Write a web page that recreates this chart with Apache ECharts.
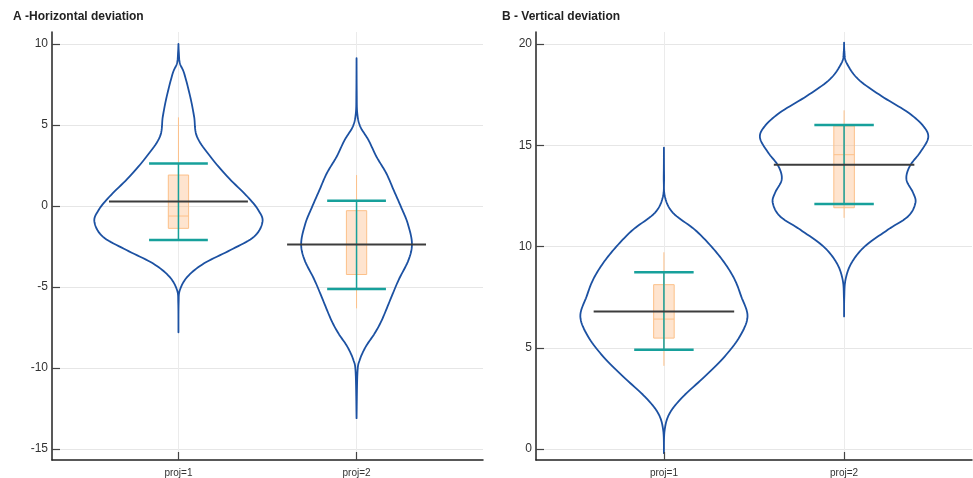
<!DOCTYPE html>
<html>
<head>
<meta charset="utf-8">
<script src="https://cdn.jsdelivr.net/npm/echarts@6/dist/echarts.min.js"></script>
<style>html,body{margin:0;padding:0;background:#fff}#c{width:973px;height:478px}</style>
</head>
<body>
<div id="c"></div>
<script>
const categories = ['proj=1', 'proj=2'];
const catPos = [1, 2];
const titleA = 'A -Horizontal deviation';
const titleB = 'B - Vertical deviation';
const ticksA = [-15, -10, -5, 0, 5, 10];
const ticksB = [0, 5, 10, 15, 20];

// Panel A violin profiles (value, half width in x units)
const aV1Y = [10.0, 9.5, 8.81, 8.19, 6.75, 5.51, 4.28, 3.04, 1.81, 0.57, -0.25, -0.97, -1.89, -2.72, -3.54, -4.36, -5.19, -6.0, -7.8];
const aV1W = [0.0, 0.002, 0.008, 0.032, 0.066, 0.088, 0.104, 0.180, 0.275, 0.388, 0.448, 0.472, 0.425, 0.292, 0.144, 0.051, 0.008, 0.001, 0.0];
const aV2Y = [9.12, 7.0, 5.72, 4.9, 4.07, 3.04, 2.02, 0.99, -0.04, -1.07, -2.3, -3.33, -4.57, -5.8, -7.04, -7.86, -8.68, -9.5, -10.3, -13.1];
const aV2W = [0.0, 0.001, 0.004, 0.021, 0.067, 0.112, 0.167, 0.208, 0.249, 0.287, 0.311, 0.292, 0.236, 0.189, 0.142, 0.102, 0.052, 0.018, 0.005, 0.0];
// Panel B violin profiles
const bV1Y = [14.89, 13.5, 12.49, 11.67, 10.84, 10.01, 9.19, 8.37, 7.54, 6.55, 5.56, 4.57, 3.58, 2.59, 1.77, 0.94, -0.2];
const bV1W = [0.0, 0.001, 0.005, 0.050, 0.171, 0.263, 0.337, 0.393, 0.429, 0.464, 0.421, 0.337, 0.226, 0.106, 0.032, 0.004, 0.0];
const bV2Y = [20.08, 19.6, 19.09, 18.27, 17.44, 16.62, 15.96, 15.38, 14.64, 13.98, 13.32, 12.66, 12.16, 11.5, 10.84, 10.01, 9.19, 8.37, 7.5, 6.55];
const bV2W = [0.0, 0.002, 0.013, 0.078, 0.207, 0.356, 0.439, 0.467, 0.421, 0.365, 0.346, 0.383, 0.396, 0.356, 0.244, 0.115, 0.041, 0.008, 0.001, 0.0];

// Panel A statistics per category
const aWhiskerLow = [-2.1, -6.32];
const aWhiskerHigh = [5.47, 1.91];
const aQ1 = [-1.38, -4.23];
const aMedian = [-0.62, -2.37];
const aQ3 = [1.91, -0.29];
const aCiLow = [-2.1, -5.12];
const aCiHigh = [2.63, 0.33];
const aMean = [0.27, -2.37];
// Panel B statistics per category
const bWhiskerLow = [4.11, 11.42];
const bWhiskerHigh = [9.72, 16.73];
const bQ1 = [5.48, 11.92];
const bMedian = [6.42, 14.54];
const bQ3 = [8.12, 15.96];
const bCiLow = [4.9, 12.1];
const bCiHigh = [8.73, 16.01];
const bMean = [6.8, 14.04];

const C_VIOLIN = '#1c51a2';
const C_TEAL = '#17a09b';
const C_MEAN = '#3c3c3c';
const C_BOX_FILL = 'rgba(253,190,140,0.42)';
const C_BOX_LINE = '#fcc089';
const FONT = 'Liberation Sans, Arial, sans-serif';

// Catmull-Rom smoothing of the (value, halfwidth) outline for drawing
function smoothProfile(ys, ws, steps) {
  const outY = [], outW = [];
  const n = ys.length;
  for (let k = 0; k < n - 1; k++) {
    const i0 = Math.max(0, k - 1), i1 = k, i2 = k + 1, i3 = Math.min(n - 1, k + 2);
    for (let s = 0; s < steps; s++) {
      const t = s / steps, t2 = t * t, t3 = t2 * t;
      const cr = (p0, p1, p2, p3) => 0.5 * ((2 * p1) + (-p0 + p2) * t + (2 * p0 - 5 * p1 + 4 * p2 - p3) * t2 + (-p0 + 3 * p1 - 3 * p2 + p3) * t3);
      outY.push(cr(ys[i0], ys[i1], ys[i2], ys[i3]));
      outW.push(Math.max(0, cr(ws[i0], ws[i1], ws[i2], ws[i3])));
    }
  }
  outY.push(ys[n - 1]); outW.push(ws[n - 1]);
  return [outY, outW];
}

function makeRender(profiles, st) {
  return function (params, api) {
    const i = params.dataIndex;
    const xc = api.value(0);
    const sp = smoothProfile(profiles[i][0], profiles[i][1], 10);
    const ys = sp[0], ws = sp[1];
    const right = [], left = [];
    for (let k = 0; k < ys.length; k++) {
      right.push(api.coord([xc + ws[k], ys[k]]));
      left.push(api.coord([xc - ws[k], ys[k]]));
    }
    const pts = right.concat(left.reverse());
    const boxW = 0.057, capW = 0.165, meanW = 0.39;
    const p = (x, y) => api.coord([x, y]);
    const children = [];
    children.push({ type: 'polygon', shape: { points: pts }, style: { fill: 'none', stroke: C_VIOLIN, lineWidth: 1.8, lineJoin: 'round' } });
    const wl = p(xc, st.wl[i]), wh = p(xc, st.wh[i]);
    children.push({ type: 'line', shape: { x1: wl[0], y1: wl[1], x2: wh[0], y2: wh[1] }, style: { stroke: C_BOX_LINE, lineWidth: 1 } });
    const q1 = p(xc - boxW, st.q1[i]), q3 = p(xc + boxW, st.q3[i]);
    children.push({ type: 'rect', shape: { x: q1[0], y: q3[1], width: q3[0] - q1[0], height: q1[1] - q3[1] }, style: { fill: C_BOX_FILL, stroke: C_BOX_LINE, lineWidth: 1 } });
    const m1 = p(xc - boxW, st.med[i]), m2 = p(xc + boxW, st.med[i]);
    children.push({ type: 'line', shape: { x1: m1[0], y1: m1[1], x2: m2[0], y2: m2[1] }, style: { stroke: C_BOX_LINE, lineWidth: 1 } });
    const cl = p(xc, st.cl[i]), ch = p(xc, st.ch[i]);
    children.push({ type: 'line', shape: { x1: cl[0], y1: cl[1], x2: ch[0], y2: ch[1] }, style: { stroke: C_TEAL, lineWidth: 1.5 } });
    [st.cl[i], st.ch[i]].forEach(v => {
      const a = p(xc - capW, v), b = p(xc + capW, v);
      children.push({ type: 'line', shape: { x1: a[0], y1: a[1], x2: b[0], y2: b[1] }, style: { stroke: C_TEAL, lineWidth: 2.5 } });
    });
    const ma = p(xc - meanW, st.mean[i]), mb = p(xc + meanW, st.mean[i]);
    children.push({ type: 'line', shape: { x1: ma[0], y1: ma[1], x2: mb[0], y2: mb[1] }, style: { stroke: C_MEAN, lineWidth: 2 } });
    return { type: 'group', children };
  };
}

function xAxisCfg(gi) {
  return {
    type: 'value', gridIndex: gi, min: 0.29, max: 2.71, z: 10,
    axisLine: { show: true, onZero: false, lineStyle: { color: '#222', width: 1.5 } },
    axisTick: { show: true, inside: true, length: 8, customValues: catPos, lineStyle: { color: '#444', width: 1.2 } },
    axisLabel: { fontFamily: FONT, color: '#333', fontSize: 10, margin: 8, customValues: catPos, formatter: v => categories[catPos.indexOf(Math.round(v))] || '' },
    splitLine: { show: false }
  };
}
function yAxisCfg(gi, mn, mx, ticks) {
  return {
    type: 'value', gridIndex: gi, min: mn, max: mx, z: 10,
    axisLine: { show: true, onZero: false, lineStyle: { color: '#222', width: 1.5 } },
    axisTick: { show: true, inside: true, length: 8, customValues: ticks, lineStyle: { color: '#444', width: 1.2 } },
    axisLabel: { fontFamily: FONT, color: '#333', fontSize: 12, margin: 4, customValues: ticks },
    splitLine: { show: false }
  };
}

function gridLines(xi, yi, ticks) {
  return {
    type: 'line', xAxisIndex: xi, yAxisIndex: yi, data: [], silent: true, z: -1,
    markLine: {
      symbol: 'none', silent: true, label: { show: false }, z: -1,
      lineStyle: { color: '#e6e6e6', width: 1, type: 'solid' },
      data: ticks.map(t => ({ yAxis: t })).concat(catPos.map(c => ({ xAxis: c, lineStyle: { color: '#ebebeb', width: 1, type: 'solid' } })))
    }
  };
}

const chart = echarts.init(document.getElementById('c'), null, { renderer: 'canvas' });
chart.setOption({
  animation: false,
  backgroundColor: '#fff',
  title: [
    { text: titleA, left: 13, top: 11, padding: 0, textStyle: { fontFamily: FONT, fontSize: 12, fontWeight: 'bold', color: '#222' } },
    { text: titleB, left: 502, top: 11, padding: 0, textStyle: { fontFamily: FONT, fontSize: 12, fontWeight: 'bold', color: '#222' } }
  ],
  grid: [
    { left: 52, right: 490, top: 32, bottom: 18 },
    { left: 536, right: 1, top: 32, bottom: 18 }
  ],
  xAxis: [xAxisCfg(0), xAxisCfg(1)],
  yAxis: [yAxisCfg(0, -15.68, 10.74, ticksA), yAxisCfg(1, -0.54, 20.6, ticksB)],
  series: [
    gridLines(0, 0, ticksA),
    gridLines(1, 1, ticksB),
    {
      type: 'custom', xAxisIndex: 0, yAxisIndex: 0, z: 5,
      data: catPos.map((c, i) => [c, aMean[i]]),
      encode: { x: 0, y: 1 },
      renderItem: makeRender([[aV1Y, aV1W], [aV2Y, aV2W]], { wl: aWhiskerLow, wh: aWhiskerHigh, q1: aQ1, q3: aQ3, med: aMedian, cl: aCiLow, ch: aCiHigh, mean: aMean })
    },
    {
      type: 'custom', xAxisIndex: 1, yAxisIndex: 1, z: 5,
      data: catPos.map((c, i) => [c, bMean[i]]),
      encode: { x: 0, y: 1 },
      renderItem: makeRender([[bV1Y, bV1W], [bV2Y, bV2W]], { wl: bWhiskerLow, wh: bWhiskerHigh, q1: bQ1, q3: bQ3, med: bMedian, cl: bCiLow, ch: bCiHigh, mean: bMean })
    }
  ]
});
</script>
</body>
</html>
